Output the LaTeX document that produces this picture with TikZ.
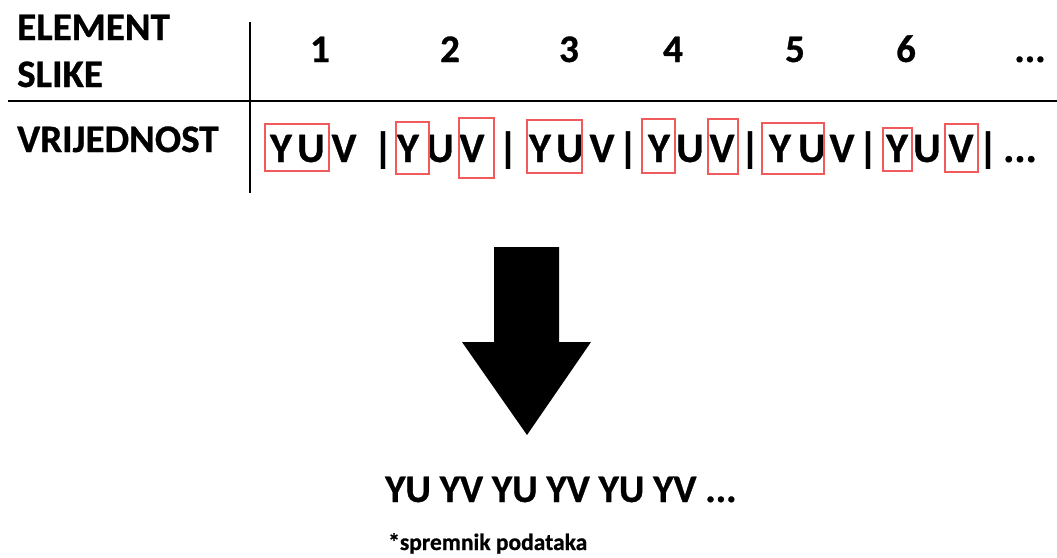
\documentclass[tikz,border=0pt]{standalone}
\usepackage{fontspec}
\setmainfont{Carlito}[BoldFeatures={FakeBold=0.8}]
\begin{document}
\begin{tikzpicture}[x=1pt,y=-1pt,
  hdr/.style={font=\fontsize{39}{42}\selectfont\bfseries, anchor=base west, inner sep=0pt},
  num/.style={font=\fontsize{39}{42}\selectfont\bfseries, anchor=base, inner sep=0pt},
  lt/.style={font=\fontsize{42}{46}\selectfont\bfseries, anchor=base, inner sep=0pt},
  redbox/.style={draw={rgb,255:red,240;green,90;blue,90}, line width=1.2pt},
  rule/.style={line width=2.6pt, black},
  bigarrow/.style={fill=black, draw=none}]
\useasboundingbox (0,0) rectangle (1057,557);
% headers
\node[hdr] (el) at (17,40) {ELEMENT};
\node[hdr] (sl) at (17,87) {SLIKE};
\node[hdr] (vr) at (17,152) {VRIJEDNOST};
% numbers
\node[num] (n1) at (320,62) {1};
\node[num] (n2) at (450,62) {2};
\node[num] (n3) at (569,62) {3};
\node[num] (n4) at (673,62) {4};
\node[num] (n5) at (795,62) {5};
\node[num] (n6) at (906,62) {6};
\node[num] (n7) at (1030,62) {...};
% rules
\coordinate (hl) at (8,101); \coordinate (hr) at (1057,101);
\coordinate (vt) at (250,22); \coordinate (vb) at (250,193);
\draw[rule] (hl) -- (hr);
\draw[rule] (vt) -- (vb);
% values
\node[lt] (y1) at (281,162) {Y};
\node[lt] (u1) at (311,162) {U};
\node[lt] (v1) at (344,162) {V};
\node[lt] (b1) at (383,162) {|};
\node[lt] (y2) at (408,162) {Y};
\node[lt] (u2) at (440,162) {U};
\node[lt] (v2) at (472,162) {V};
\node[lt] (b2) at (508,162) {|};
\node[lt] (y3) at (540,162) {Y};
\node[lt] (u3) at (570,162) {U};
\node[lt] (v3) at (602,162) {V};
\node[lt] (b3) at (628,162) {|};
\node[lt] (y4) at (659,162) {Y};
\node[lt] (u4) at (690,162) {U};
\node[lt] (v4) at (722,162) {V};
\node[lt] (b4) at (750,162) {|};
\node[lt] (y5) at (780,162) {Y};
\node[lt] (u5) at (812,162) {U};
\node[lt] (v5) at (842,162) {V};
\node[lt] (b5) at (868,162) {|};
\node[lt] (y6) at (897,162) {Y};
\node[lt] (u6) at (927,162) {U};
\node[lt] (v6) at (961,162) {V};
\node[lt] (b6) at (988,162) {|};
\node[lt] (dd) at (1020,162) {...};
% red boxes
\draw[redbox] (265,124) rectangle (329,171);
\draw[redbox] (396,122) rectangle (429,174);
\draw[redbox] (459,118) rectangle (494,178);
\draw[redbox] (527,120) rectangle (582,173);
\draw[redbox] (642,119) rectangle (675,173);
\draw[redbox] (708,119) rectangle (738,174);
\draw[redbox] (762,123) rectangle (824,174);
\draw[redbox] (883,128) rectangle (912,171);
\draw[redbox] (945,124) rectangle (978,172);
% big arrow
\fill[bigarrow] (494,247) -- (559,247) -- (559,342) -- (591,342) -- (527,435) -- (462,342) -- (494,342) -- cycle;
% result
\node[hdr] (res) at (385,502) {YU YV YU YV YU YV ...};
\node[hdr, font=\fontsize{23.5}{26}\selectfont\bfseries] (note) at (388,550) {*spremnik podataka};
\end{tikzpicture}
\end{document}
